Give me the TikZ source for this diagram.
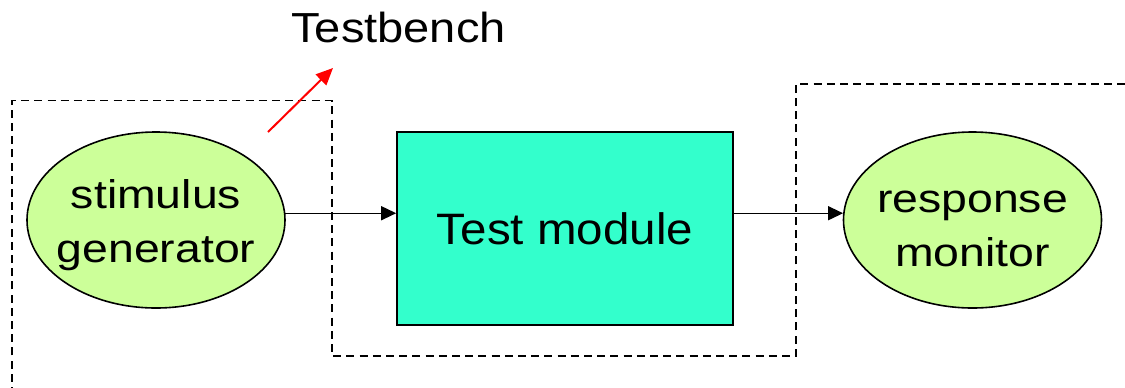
\documentclass[tikz,border=0pt]{standalone}
\usepackage{fontspec}
\setmainfont{Liberation Sans}
\newfontfamily\fa[FakeStretch=1.08]{Liberation Sans}
\newfontfamily\ft[FakeStretch=1.12]{Liberation Sans}
\newfontfamily\fb[FakeStretch=1.16]{Liberation Sans}
\usetikzlibrary{shapes.geometric,arrows.meta,calc}
\definecolor{ellfill}{HTML}{CCFF99}
\definecolor{boxfill}{HTML}{33FFCC}
\tikzset{
  ell/.style={ellipse, draw=black, line width=0.8pt, fill=ellfill, inner xsep=-8pt, inner ysep=0pt,
    minimum width=129pt, minimum height=88pt, align=center, text height=47pt,
    font=\fb\fontsize{20pt}{27pt}\selectfont},
  modbox/.style={rectangle, draw=black, line width=0.8pt, fill=boxfill, inner sep=0pt,
    minimum width=168pt, minimum height=96.5pt, font=\fa\fontsize{22pt}{26pt}\selectfont},
  sig/.style={line width=0.7pt, -{Triangle[length=7.5pt,width=7pt]}},
  tbline/.style={line width=0.75pt, dash pattern=on 4pt off 2.6pt},
  redarrow/.style={red, line width=1pt, -{Triangle[length=8.5pt,width=7.5pt]}},
  title/.style={font=\ft\fontsize{21pt}{25pt}\selectfont, anchor=base, inner sep=0pt}
}
\begin{document}
\begin{tikzpicture}[x=0.5pt,y=-0.5pt]
\useasboundingbox[fill=white] (0,0) rectangle (1125,387);
% testbench boundary
\draw[tbline] (12,395) -- (12,100.5) -- (332,100.5) -- (332,356) -- (796,356) -- (796,84) -- (1130,84);
% nodes
\node[ell] (sg) at (156,220) {stimulus\\generator};
\node[modbox] (tm) at (565,228.5) {Test module};
\node[ell] (rm) at (972.5,220) {response\\monitor};
\node[title] (tb) at (398.5,42.5) {Testbench};
% connectors
\draw[sig] (sg.3) -- (sg.3 -| tm.west);
\draw[sig] (tm.east |- rm.177) -- (rm.177);
% red pointer
\coordinate (ra) at (268,132);
\coordinate (rb) at (333,68);
\draw[redarrow] (ra) -- (rb);
\end{tikzpicture}
\end{document}
